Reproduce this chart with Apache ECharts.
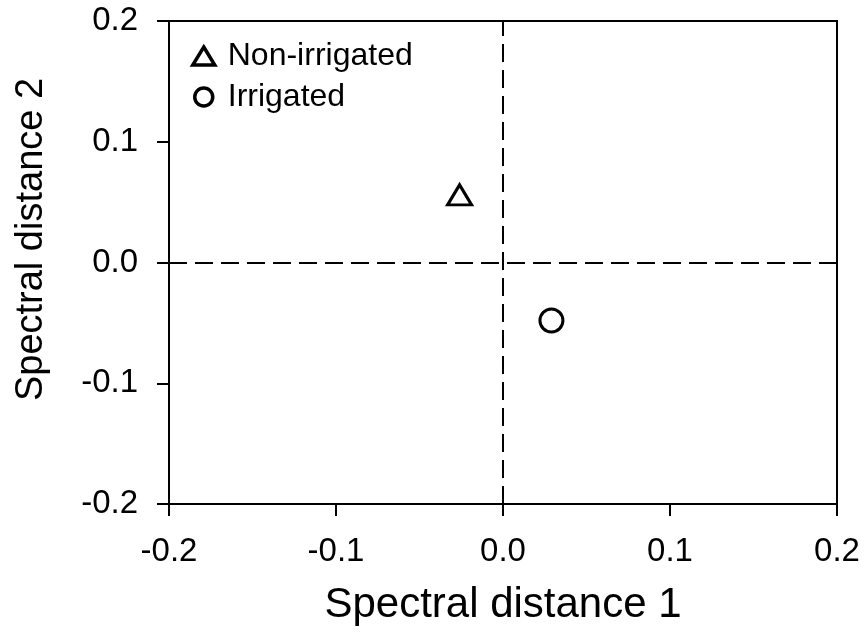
<!DOCTYPE html>
<html>
<head>
<meta charset="utf-8">
<script src="https://cdn.jsdelivr.net/npm/echarts@6/dist/echarts.min.js"></script>
<style>
  html, body { margin: 0; padding: 0; background: #fff; }
  #chart { width: 865px; height: 635px; }
</style>
</head>
<body>
<div id="chart"></div>
<script>
// values
const seriesNames = ['Non-irrigated', 'Irrigated']
const seriesSymbols = ['triangle', 'circle']
const nonIrrigated = [[-0.026, 0.056]]
const irrigated = [[0.029, -0.048]]
const axisMin = -0.2
const axisMax = 0.2
const axisStep = 0.1

const font = "'Liberation Sans', Arial, sans-serif"

const chartDom = document.getElementById('chart')
const myChart = echarts.init(chartDom)

const axisCommon = {
    type: 'value',
    min: axisMin,
    max: axisMax,
    interval: axisStep,
    nameLocation: 'middle',
    axisLine: { show: true, onZero: false, lineStyle: { color: '#000', width: 2 } },
    axisTick: { show: true, inside: false, length: 12, lineStyle: { color: '#000', width: 2 } },
    splitLine: { show: false },
    axisLabel: {
        color: '#000',
        fontFamily: font,
        fontSize: 33,
        margin: 31,
        formatter: v => v.toFixed(1)
    }
}

const markerStyle = { color: '#fff', borderColor: '#000', borderWidth: 3, opacity: 1 }
const dashed = { color: '#000', width: 2, type: [18, 8], opacity: 1 }

const option = {
    animation: false,
    backgroundColor: '#fff',
    grid: {
        left: 169,
        right: 28,
        top: 21,
        bottom: 131,
        show: true,
        borderColor: '#000',
        borderWidth: 2
    },
    legend: {
        orient: 'vertical',
        left: 186,
        top: 35,
        itemWidth: 22,
        itemHeight: 18,
        itemGap: 9,
        textStyle: { color: '#000', fontFamily: font, fontSize: 32, padding: [0, 0, 0, 8] },
        itemStyle: { color: '#fff', borderColor: '#000', borderWidth: 3.5, opacity: 1 },
        data: seriesNames
    },
    xAxis: Object.assign({}, axisCommon, {
        name: 'Spectral distance 1',
        nameGap: 80,
        nameTextStyle: { color: '#000', fontFamily: font, fontSize: 42 }
    }),
    yAxis: Object.assign({}, axisCommon, {
        name: 'Spectral distance 2',
        nameGap: 118,
        nameTextStyle: { color: '#000', fontFamily: font, fontSize: 38, padding: [0, 0, 0, 46] }
    }),
    series: [
        {
            name: seriesNames[0],
            type: 'scatter',
            symbol: seriesSymbols[0],
            symbolSize: [24, 20],
            itemStyle: markerStyle,
            data: nonIrrigated,
            markLine: {
                silent: true,
                symbol: 'none',
                label: { show: false },
                lineStyle: dashed,
                data: [{ xAxis: 0 }, { yAxis: 0 }]
            },
            z: 3
        },
        {
            name: seriesNames[1],
            type: 'scatter',
            symbol: seriesSymbols[1],
            symbolSize: 23,
            itemStyle: markerStyle,
            data: irrigated,
            z: 3
        }
    ]
}

myChart.setOption(option)
</script>
</body>
</html>
